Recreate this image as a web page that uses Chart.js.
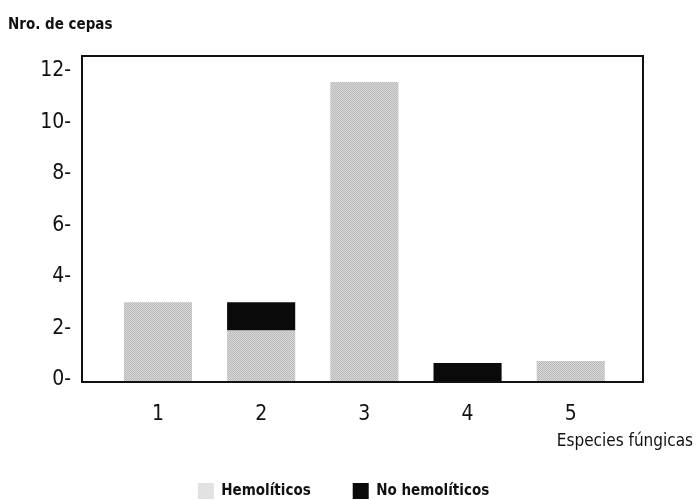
<!DOCTYPE html>
<html>
<head>
<meta charset="utf-8">
<script src="https://cdn.jsdelivr.net/npm/chart.js@4/dist/chart.umd.min.js"></script>
<style>
  html, body { margin: 0; padding: 0; background: #fff; }
  #wrap { width: 696px; height: 500px; }
</style>
</head>
<body>
<div id="wrap"><canvas id="fungiChart" width="696" height="500"></canvas></div>
<script>
// === DATA ===
const species = [1, 2, 3, 4, 5];
const hemoliticos = [3.1, 2.0, 11.65, 0, 0.82];
const noHemoliticos = [0, 1.1, 0, 0.74, 0];
const yTicks = [0, 2, 4, 6, 8, 10, 12];

const FONT = "'Liberation Sans Narrow', 'Arial Narrow', 'DejaVu Sans Condensed', sans-serif";

// halftone-ish gray fill, like the printed original
function halftone() {
    const c = document.createElement('canvas');
    c.width = 2; c.height = 2;
    const g = c.getContext('2d');
    g.fillStyle = '#d8d8d8'; g.fillRect(0, 0, 2, 2);
    g.fillStyle = '#bababa'; g.fillRect(0, 0, 1, 1); g.fillRect(1, 1, 1, 1);
    return g.createPattern(c, 'repeat');
}
const GRAY = halftone();

// frame round the plot + x axis caption
const framePlugin = {
    id: 'frame',
    afterDraw(chart) {
        const { ctx, chartArea: a } = chart;
        ctx.save();
        ctx.strokeStyle = '#111';
        ctx.lineWidth = 2;
        ctx.strokeRect(a.left, a.top, a.right - a.left, a.bottom - a.top);
        ctx.fillStyle = '#111';
        ctx.font = '17px ' + FONT;
        ctx.textAlign = 'right';
        ctx.textBaseline = 'middle';
        ctx.fillText('Especies fúngicas', a.right + 50, a.bottom + 60);
        ctx.restore();
    }
};

const barStyle = { borderWidth: 0, barPercentage: 0.66, categoryPercentage: 1 };

const ctx = document.getElementById('fungiChart').getContext('2d');
new Chart(ctx, {
    type: 'bar',
    data: {
        labels: species,
        datasets: [
            { label: 'Hemolíticos', data: species.map((s, i) => ({ x: s, y: hemoliticos[i] })), backgroundColor: GRAY, ...barStyle },
            { label: 'No hemolíticos', data: species.map((s, i) => ({ x: s, y: noHemoliticos[i] })), backgroundColor: '#0a0a0a', ...barStyle }
        ]
    },
    options: {
        responsive: false, animation: false,
        layout: { padding: { left: 8, right: 17, top: 0, bottom: -9 } },
        plugins: {
            title: {
                display: true, text: 'Nro. de cepas', align: 'start', color: '#111',
                font: { family: FONT, size: 15, weight: 'bold' },
                padding: { top: 16, bottom: 22 }
            },
            legend: {
                display: true, position: 'bottom',
                labels: {
                    color: '#111', boxWidth: 16, boxHeight: 16, padding: 42,
                    font: { family: FONT, size: 15, weight: 'bold' },
                    generateLabels: chart => {
                        const items = Chart.defaults.plugins.legend.labels.generateLabels(chart);
                        items[0].fillStyle = '#e2e2e2';
                        return items;
                    }
                }
            },
            tooltip: { enabled: false }
        },
        scales: {
            x: {
                type: 'linear', stacked: true, offset: false, min: 0.264, max: 5.7,
                afterBuildTicks: s => { s.ticks = species.map(v => ({ value: v })); },
                grid: { display: false, drawTicks: false }, border: { display: false },
                ticks: { color: '#111', padding: 20, font: { family: FONT, size: 21 } },
                afterFit: s => { s.height = 59; }
            },
            y: {
                stacked: true, min: 0, max: 12.66,
                afterBuildTicks: s => { s.ticks = yTicks.map(v => ({ value: v })); },
                grid: { display: false, drawTicks: false }, border: { display: false },
                ticks: { color: '#111', padding: 11, labelOffset: -2, font: { family: FONT, size: 21 }, callback: v => v + '-' },
                afterFit: s => { s.width = 74; }
            },
            // empty right axis: only keeps room on the right
            yRight: {
                position: 'right', display: true,
                grid: { display: false }, border: { display: false }, ticks: { display: false },
                afterFit: s => { s.width = 36; }
            }
        }
    },
    plugins: [framePlugin]
});
</script>
</body>
</html>
